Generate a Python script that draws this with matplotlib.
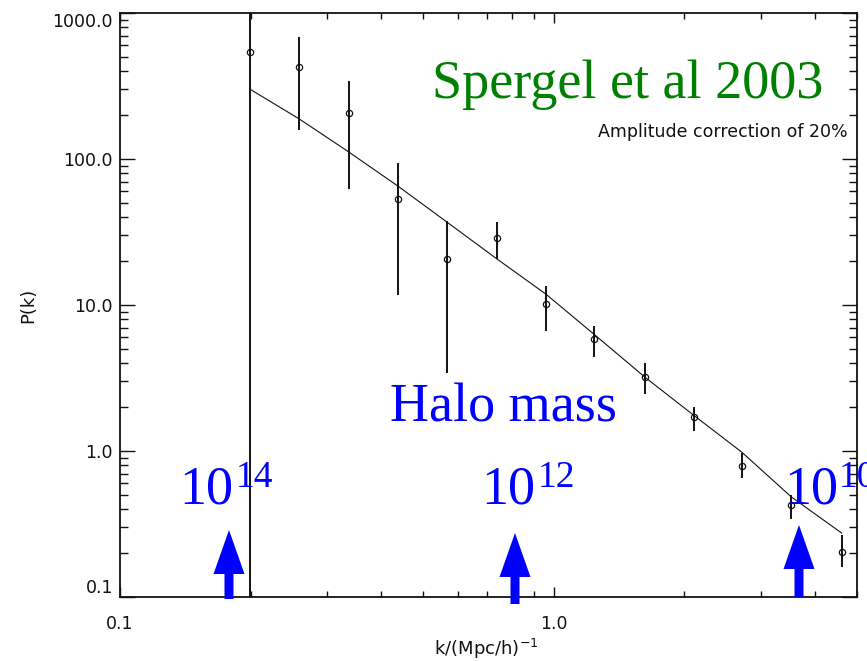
import matplotlib
matplotlib.use("Agg")
import matplotlib.pyplot as plt
import numpy as np
from matplotlib.ticker import FixedLocator, FixedFormatter

# ---- data ----
k_vals = [0.199, 0.259, 0.337, 0.437, 0.567, 0.739, 0.958, 1.236, 1.621, 2.10, 2.71, 3.53, 4.61]
p_vals = [543, 427, 207, 53.2, 20.7, 28.8, 10.2, 5.85, 3.21, 1.71, 0.789, 0.427, 0.203]
p_low  = [0.01, 158, 62.3, 11.7, 3.42, 20.7, 6.64, 4.40, 2.46, 1.37, 0.653, 0.342, 0.160]
p_high = [1.0e4, 685, 342, 94, 37.6, 37.0, 13.5, 7.18, 4.01, 2.00, 0.969, 0.500, 0.266]
model_p = [301.7, 188, 111.6, 65.3, 37.0, 20.7, 11.9, 6.33, 3.21, 1.76, 0.984, 0.484, 0.274]

y_major = [0.1, 1.0, 10.0, 100.0, 1000.0]
y_major_labels = ["0.1", "1.0", "10.0", "100.0", "1000.0"]
x_major = [0.1, 1.0]
x_major_labels = ["0.1", "1.0"]

title_text = "Spergel et al 2003"
note_text = "Amplitude correction of 20%"
halo_text = "Halo mass"
mass_exps = ["14", "12", "10"]

W, H = 867, 661
fig = plt.figure(figsize=(W / 100, H / 100), dpi=100)
ax = fig.add_axes([120 / W, 1 - 597 / H, (857 - 120) / W, (597 - 13) / H])
ax.set_xscale("log")
ax.set_yscale("log")
ax.set_xlim(0.1, 5.0)
ax.set_ylim(0.1, 1000.0)

kc = "#111111"
k = np.array(k_vals)
p = np.array(p_vals)
lo = p - np.array(p_low)
hi = np.array(p_high) - p

ax.plot(k, model_p, color=kc, lw=0.8, zorder=2)
ax.errorbar(k, p, yerr=[lo, hi], fmt="o", ms=4.5, mfc="none", mec=kc, mew=0.9,
            ecolor=kc, elinewidth=1.4, capsize=0, zorder=3)

# ticks
ax.yaxis.set_major_locator(FixedLocator(y_major))
ax.yaxis.set_major_formatter(FixedFormatter(y_major_labels))
ymin = [m * d for d in [0.1, 1, 10, 100] for m in range(2, 10)]
ax.yaxis.set_minor_locator(FixedLocator(ymin))
ax.yaxis.set_minor_formatter(FixedFormatter([]))
ax.xaxis.set_major_locator(FixedLocator(x_major))
ax.xaxis.set_major_formatter(FixedFormatter(x_major_labels))
xmin = [m * d for d in [0.1, 1] for m in range(2, 10) if m * d <= 5]
ax.xaxis.set_minor_locator(FixedLocator(xmin))
ax.xaxis.set_minor_formatter(FixedFormatter([]))

ax.tick_params(axis="both", which="both", direction="in", top=True, right=True,
               colors=kc, labelsize=12.5, width=1.0)
ax.tick_params(axis="y", which="major", length=10.8, pad=5)
ax.tick_params(axis="y", which="minor", length=5.5)
ax.tick_params(axis="x", which="major", length=7, pad=13)
ax.tick_params(axis="x", which="minor", length=4.3)
for s in ax.spines.values():
    s.set_linewidth(1.3)
    s.set_color(kc)

yt = ax.yaxis.get_major_ticks()
yt[0].label1.set_va("bottom")
yt[-1].label1.set_va("top")

ax.set_xlabel(r"k/(Mpc/h)$^{-1}$", fontsize=13, color=kc)
ax.set_ylabel("P(k)", fontsize=13, color=kc)
ax.xaxis.set_label_coords((486 - 120) / 737, -(637 - 597) / 584)
ax.yaxis.set_label_coords(-(120 - 37) / 737, 0.5)

# annotations in figure pixels
def fp(x, y):
    return (x, H - y)

serif = "Liberation Serif"
fig.text(*[v / s for v, s in zip(fp(432, 98), (W, H))], title_text, fontsize=39,
         family=serif, color="#008000", ha="left", va="baseline")
fig.text(848 / W, 1 - 137 / H, note_text, fontsize=12.5, color=kc,
         ha="right", va="baseline")
fig.text(390 / W, 1 - 421 / H, halo_text, fontsize=39, family=serif,
         color="#0000ff", ha="left", va="baseline")

base_x = [179, 481, 784]
sup_x = [236, 538, 839]
for bx, sx, e in zip(base_x, sup_x, mass_exps):
    fig.text(bx / W, 1 - 503 / H, "10", fontsize=39, family=serif,
             color="#0000ff", ha="left", va="baseline")
    fig.text(sx / W, 1 - 487 / H, e, fontsize=27, family=serif,
             color="#0000ff", ha="left", va="baseline")

arrow_x = [229, 515, 799]
arrow_tip = [530, 533, 525]
arrow_tail = [599, 604, 597]
pt = 0.72
style = "simple,head_width=%.2f,head_length=%.2f,tail_width=%.2f" % (31 * pt, 44 * pt, 9 * pt)
for x, t0, t1 in zip(arrow_x, arrow_tip, arrow_tail):
    ax.annotate("", xy=fp(x, t0), xycoords="figure pixels",
                xytext=fp(x, t1), textcoords="figure pixels",
                arrowprops=dict(arrowstyle=style, fc="#0000ff", ec="none",
                                shrinkA=0, shrinkB=0, mutation_scale=1),
                annotation_clip=False, zorder=5)

fig.savefig("out.png", dpi=100)
